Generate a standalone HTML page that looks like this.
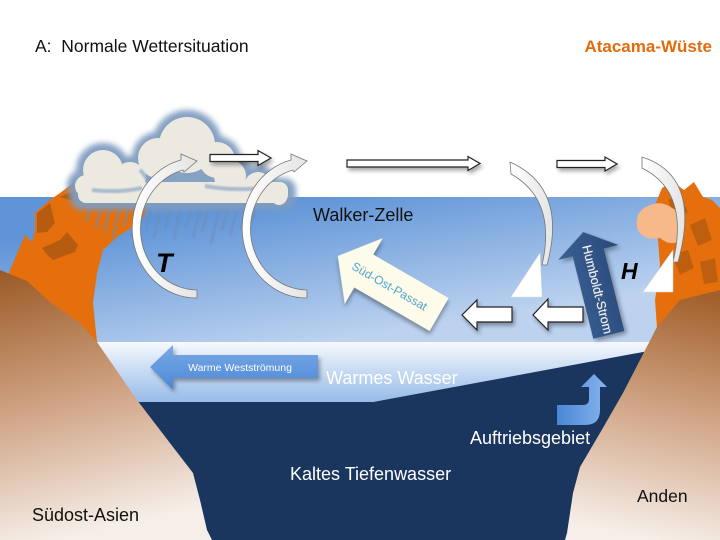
<!DOCTYPE html>
<html><head><meta charset="utf-8"><style>
html,body{margin:0;padding:0;background:#fff;}
svg{display:block;}
text{font-family:"Liberation Sans",Arial,sans-serif;}
</style></head><body>
<svg width="720" height="540" viewBox="0 0 720 540" xmlns="http://www.w3.org/2000/svg">
<defs>
<linearGradient id="sky" gradientUnits="userSpaceOnUse" x1="300" y1="197" x2="322" y2="342">
<stop offset="0" stop-color="#5f94d7"/><stop offset="1" stop-color="#bcd2ef"/></linearGradient>
<linearGradient id="warm" x1="0" y1="0" x2="0" y2="1">
<stop offset="0" stop-color="#f7fafe"/><stop offset="0.25" stop-color="#dde9f8"/><stop offset="1" stop-color="#97bbe8"/></linearGradient>
<linearGradient id="brownL" gradientUnits="userSpaceOnUse" x1="0" y1="275" x2="60" y2="540">
<stop offset="0" stop-color="#9c5c28"/><stop offset="0.5" stop-color="#cfa283"/><stop offset="1" stop-color="#f6efe9"/></linearGradient>
<linearGradient id="brownR" gradientUnits="userSpaceOnUse" x1="700" y1="295" x2="650" y2="540">
<stop offset="0" stop-color="#a2602b"/><stop offset="0.5" stop-color="#d2a789"/><stop offset="1" stop-color="#f6efe9"/></linearGradient>
<linearGradient id="wws" x1="0" y1="0" x2="0" y2="1">
<stop offset="0" stop-color="#7aaae6"/><stop offset="1" stop-color="#4b87d6"/></linearGradient>
<linearGradient id="auf" x1="0" y1="0" x2="1" y2="0">
<stop offset="0" stop-color="#4a86d6"/><stop offset="1" stop-color="#86b4ec"/></linearGradient>
<linearGradient id="hum" x1="0" y1="0" x2="1" y2="0">
<stop offset="0" stop-color="#3a5f93"/><stop offset="1" stop-color="#294a7a"/></linearGradient>
<linearGradient id="arc" x1="0" y1="0" x2="1" y2="0">
<stop offset="0" stop-color="#ffffff"/><stop offset="1" stop-color="#e4e4e4"/></linearGradient>
<filter id="blur3" x="-20%" y="-20%" width="140%" height="140%"><feGaussianBlur stdDeviation="3"/></filter>
<filter id="blur1" x="-20%" y="-20%" width="140%" height="140%"><feGaussianBlur stdDeviation="0.8"/></filter>
<filter id="shadow" x="-20%" y="-20%" width="150%" height="150%">
<feGaussianBlur in="SourceAlpha" stdDeviation="2"/><feOffset dx="2" dy="3"/>
<feComponentTransfer><feFuncA type="linear" slope="0.35"/></feComponentTransfer>
<feMerge><feMergeNode/><feMergeNode in="SourceGraphic"/></feMerge></filter>
</defs>

<!-- sky -->
<rect x="0" y="197" width="720" height="146" fill="url(#sky)"/>
<!-- warm water -->
<polygon points="80,342 670,342 670,347 373,402 80,402" fill="url(#warm)"/>
<!-- cold deep water -->
<polygon points="80,402 373,402 670,347 670,540 80,540" fill="#1a365f"/>

<!-- left orange mountain -->
<polygon points="7,277 25,235 32,242 35,230 35,213 50,200 60,193 77,180 97,183 115,198 147,210 140,222 117,237 103,250 97,273 93,303 97,342 0,342 0,290" fill="#e46f0c"/>
<g fill="#b25a12" opacity="0.9">
<polygon points="37,213 50,203 55,223 47,232 37,233"/>
<polygon points="42,248 60,240 67,232 78,245 75,252 53,260 47,255"/>
<polygon points="60,197 80,187 97,192 90,203 80,203"/>
</g>
<!-- left brown hill -->
<polygon points="0,270 27,281 50,302 80,323 97,342 137,400 173,447 193,473 200,500 207,530 212,540 0,540" fill="url(#brownL)"/>

<!-- right orange mountain -->
<polygon points="655,205 662,188 673,182 684,190 694,182 703,197 712,200 720,208 720,295 680,302 657,328 655,300 660,265 658,240" fill="#e46f0c"/>
<g fill="#b25a12" opacity="0.75">
<polygon points="668,200 680,195 688,212 676,220"/>
<polygon points="690,225 705,218 712,240 698,246"/>
<polygon points="672,255 688,250 694,268 680,275"/>
<polygon points="700,262 715,258 718,282 704,284"/>
</g>
<path d="M646 207 Q660 199 672 208 L684 215 L683 240 Q670 247 660 238 Q642 241 637 228 Q635 212 646 207 Z" fill="#f7b98a"/>
<!-- right brown hill -->
<polygon points="720,290 680,300 657,327 640,360 623,393 600,433 580,467 573,493 567,533 565,540 720,540" fill="url(#brownR)"/>

<!-- rain -->
<g stroke="#6f8db3" stroke-width="2" opacity="0.75" filter="url(#blur1)">
<line x1="95" y1="192" x2="86" y2="222"/><line x1="104" y1="195" x2="96" y2="228"/>
<line x1="113" y1="194" x2="104" y2="232"/><line x1="122" y1="196" x2="113" y2="238"/>
<line x1="131" y1="196" x2="124" y2="226"/><line x1="140" y1="198" x2="131" y2="236"/>
<line x1="153" y1="200" x2="146" y2="230"/><line x1="162" y1="200" x2="154" y2="238"/>
<line x1="172" y1="202" x2="165" y2="230"/><line x1="182" y1="202" x2="174" y2="240"/>
<line x1="192" y1="204" x2="186" y2="228"/><line x1="201" y1="204" x2="193" y2="238"/>
<line x1="210" y1="204" x2="202" y2="232"/><line x1="220" y1="205" x2="211" y2="244"/>
<line x1="229" y1="205" x2="222" y2="230"/><line x1="238" y1="205" x2="230" y2="236"/>
<line x1="247" y1="205" x2="241" y2="228"/><line x1="256" y1="205" x2="249" y2="232"/>
</g>

<!-- cloud -->
<g>
<g fill="#7f9cc0" filter="url(#blur3)" opacity="0.95">
<circle cx="103" cy="170" r="27"/><circle cx="84" cy="186" r="17"/><circle cx="130" cy="178" r="22"/>
<circle cx="187" cy="145" r="35"/><circle cx="158" cy="158" r="26"/><circle cx="217" cy="160" r="24"/>
<circle cx="230" cy="175" r="22"/><circle cx="258" cy="185" r="20"/><circle cx="280" cy="196" r="14"/>
<rect x="70" y="178" width="226" height="32" rx="12"/>
</g>
<g fill="#ebe9e0">
<circle cx="103" cy="170" r="20"/><circle cx="86" cy="186" r="11"/><circle cx="130" cy="178" r="16"/>
<circle cx="187" cy="145" r="28"/><circle cx="158" cy="158" r="20"/><circle cx="217" cy="160" r="18"/>
<circle cx="230" cy="176" r="16"/><circle cx="258" cy="186" r="14"/><circle cx="279" cy="197" r="8"/>
<rect x="78" y="182" width="210" height="21" rx="8"/>
</g>
<g fill="none" stroke="#8aa4c4" stroke-width="4" opacity="0.65" filter="url(#blur1)">
<path d="M92 190 Q120 193 142 188"/><path d="M205 186 Q232 191 264 188"/><path d="M140 170 Q150 180 148 190"/>
</g>
</g>

<!-- rising crescent arrows -->
<g stroke="#777" stroke-width="0.8" fill="url(#arc)">
<path d="M197 298 A64 70 0 0 1 181 160 L181 154 L197 161 L184 172 L183 170 A57 61 0 0 0 197 290 Z"/>
<path d="M307 298 A64 70 0 0 1 291 160 L291 154 L307 161 L294 172 L293 170 A57 61 0 0 0 307 290 Z"/>
</g>
<!-- descending crescent arrows -->
<g stroke="#777" stroke-width="0.8" fill="url(#arc)">
<path d="M510 162 Q568 188 547 265 L542 265 Q557 200 511 174 Z"/>
<path d="M642 157 Q702 176 678 262 L673 262 Q690 192 642 168 Z"/>
</g>
<g fill="#ffffff" stroke="#ddd" stroke-width="0.5">
<polygon points="511,297 542,297 540,253"/>
<polygon points="643,292 673,292 673,250"/>
</g>

<!-- top horizontal arrows -->
<g fill="#ffffff" stroke="#222" stroke-width="1.2" filter="url(#shadow)">
<polygon points="210,154.5 258,154.5 258,150.5 271,158 258,165.5 258,161.5 210,161.5"/>
<polygon points="347,160 468,160 468,156.5 480,163.5 468,170.5 468,167 347,167"/>
<polygon points="557,160.5 605,160.5 605,157 617,164 605,171 605,167.5 557,167.5"/>
</g>
<!-- lower left-pointing arrows -->
<g fill="#ffffff" stroke="#222" stroke-width="1.2" filter="url(#shadow)">
<polygon points="512,307 477,307 477,300 462,315 477,330 477,322 512,322"/>
<polygon points="583,307 548,307 548,299 533,315 548,330 548,322 583,322"/>
</g>

<!-- Humboldt-Strom -->
<g transform="translate(596,283.5) rotate(-14)" filter="url(#shadow)">
<polygon points="0,-53 31,-32 16,-32 16,53 -16,53 -16,-32 -31,-32" fill="url(#hum)"/>
<text transform="rotate(90)" x="6" y="4.5" text-anchor="middle" font-size="12.5" fill="#ffffff">Humboldt-Strom</text>
</g>

<!-- Süd-Ost-Passat -->
<g transform="translate(388,285) rotate(30)" filter="url(#shadow)">
<polygon points="-58,0 -28,-38 -28,-19 59,-19 59,19 -28,19 -28,38" fill="#fdfbe9"/>
<text x="2" y="4.5" text-anchor="middle" font-size="12" fill="#3b9fcf">Süd-Ost-Passat</text>
</g>

<!-- Warme Weststroemung -->
<g filter="url(#shadow)">
<polygon points="150,367 173,345 173,355 318,355 318,378 173,378 173,390" fill="url(#wws)"/>
</g>
<text x="240" y="371" text-anchor="middle" font-size="10.5" fill="#ffffff">Warme Westströmung</text>

<!-- Auftrieb arrow -->
<path d="M557 405 L583 405 Q589 405 589 399 L589 387 L581 387 L594 374 L607 387 L600 387 L600 410 Q600 425 585 425 L557 425 Z" fill="url(#auf)"/>

<!-- labels -->
<text x="35" y="52" font-size="17.5" fill="#111" xml:space="preserve" style="white-space:pre">A:  Normale Wettersituation</text>
<text x="712" y="52" text-anchor="end" font-size="17" font-weight="bold" fill="#e36c0a">Atacama-Wüste</text>
<text x="313" y="221" font-size="18" fill="#111">Walker-Zelle</text>
<text x="156" y="272" font-size="27" font-weight="bold" font-style="italic" fill="#000">T</text>
<text x="621" y="279" font-size="23" font-weight="bold" font-style="italic" fill="#000">H</text>
<text x="326" y="384" font-size="18" fill="#ffffff">Warmes Wasser</text>
<text x="470" y="444" font-size="18" fill="#ffffff">Auftriebsgebiet</text>
<text x="290" y="480" font-size="18" fill="#ffffff">Kaltes Tiefenwasser</text>
<text x="32" y="521" font-size="18" fill="#111">Südost-Asien</text>
<text x="637" y="502" font-size="17.5" fill="#111">Anden</text>
</svg>
</body></html>
